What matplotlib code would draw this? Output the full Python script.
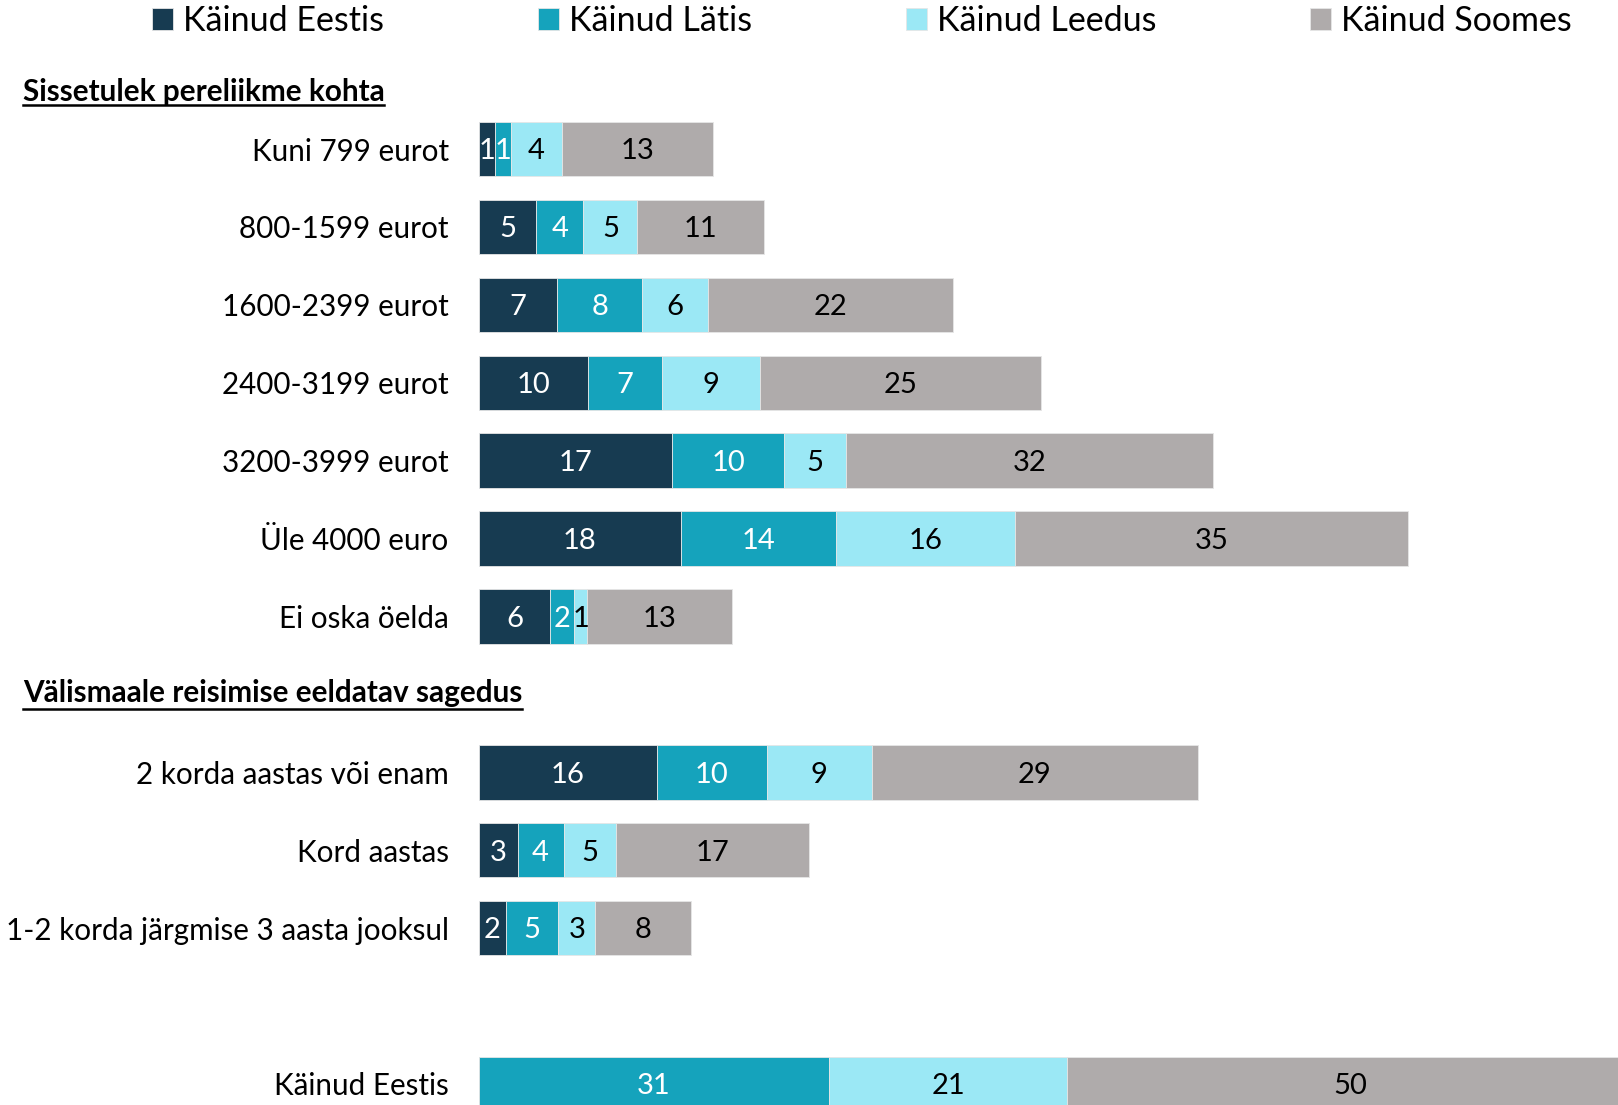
import matplotlib.pyplot as plt
from matplotlib.lines import Line2D

plt.rcParams["font.family"] = ["Lato", "DejaVu Sans"]

income_labels = ["Kuni 799 eurot", "800-1599 eurot", "1600-2399 eurot", "2400-3199 eurot",
                 "3200-3999 eurot", "Üle 4000 euro", "Ei oska öelda"]
freq_labels = ["2 korda aastas või enam", "Kord aastas", "1-2 korda järgmise 3 aasta jooksul"]
total_labels = ["Käinud Eestis"]

series_names = ["Käinud Eestis", "Käinud Lätis", "Käinud Leedus", "Käinud Soomes"]
eestis = [1.45, 5.1, 6.93, 9.63, 17.1, 17.9, 6.36, 15.8, 3.45, 2.4, 0]
latis = [1.45, 4.16, 7.54, 6.6, 9.9, 13.7, 2.12, 9.65, 4.06, 4.64, 31]
leedus = [4.45, 4.78, 5.83, 8.66, 5.46, 15.8, 1.1, 9.28, 4.67, 3.28, 21]
soomes = [13.4, 11.15, 21.6, 24.8, 32.4, 34.7, 12.8, 28.8, 17.0, 8.42, 50]

headings = ["Sissetulek pereliikme kohta", "Välismaale reisimise eeldatav sagedus"]

colors = ["#173B51", "#15A3BC", "#9BE8F5", "#AFABAB"]
text_colors = ["white", "white", "black", "black"]

W, H = 1618, 1105
fig = plt.figure(figsize=(W / 100, H / 100), dpi=100)
x0 = 478.5
ax = fig.add_axes([x0 / W, 0, 1 - x0 / W, 1])

# row slots: income 0..6, heading at 7, frequency 8..10, gap, total 12
labels = income_labels + freq_labels + total_labels
slots = list(range(len(income_labels))) + [8, 9, 10] + [12]

unit = 11.32
ax.set_xlim(0, (W - x0) / unit)
pitch = 77.9
top = 149.1
ax.set_ylim((H - top) / pitch, -top / pitch)

left = [0.0] * len(slots)
for vals, col, tcol, name in zip([eestis, latis, leedus, soomes], colors, text_colors, series_names):
    ax.barh(slots, vals, left=left, height=0.70, color=col, label=name,
            edgecolor="#E6E6E6", linewidth=0.6)
    for y, v, l in zip(slots, vals, left):
        if v > 0:
            ax.text(l + v / 2, y + 0.03, f"{round(v)}", ha="center", va="center",
                    color=tcol, fontsize=21)
    left = [a + b for a, b in zip(left, vals)]

ax.set_yticks(slots)
ax.set_yticklabels(labels, fontsize=21.3)
ax.tick_params(axis="y", length=0, pad=21.5)
ax.set_xticks([])
for s in ax.spines.values():
    s.set_visible(False)

# section headings with underline
fig.canvas.draw()
r = fig.canvas.get_renderer()
for txt, yc, yl in zip(headings, [91.8, 693.0], [105.0, 708.5]):
    t = fig.text(22.7 / W, 1 - yc / H, txt, fontsize=21.4, fontweight="bold",
                 ha="left", va="center")
    bb = t.get_window_extent(renderer=r)
    fig.add_artist(Line2D([bb.x0 / W, bb.x1 / W], [1 - yl / H, 1 - yl / H],
                          color="black", linewidth=1.8, transform=fig.transFigure))

h, l = ax.get_legend_handles_labels()
fig.legend(h, l, loc="center", bbox_to_anchor=(862 / W, 1 - 21 / H), ncol=4,
           frameon=False, fontsize=24.5, handlelength=0.62, handleheight=0.62,
           handletextpad=0.31, columnspacing=4.5, borderpad=0)

fig.savefig("out.png", dpi=100)
